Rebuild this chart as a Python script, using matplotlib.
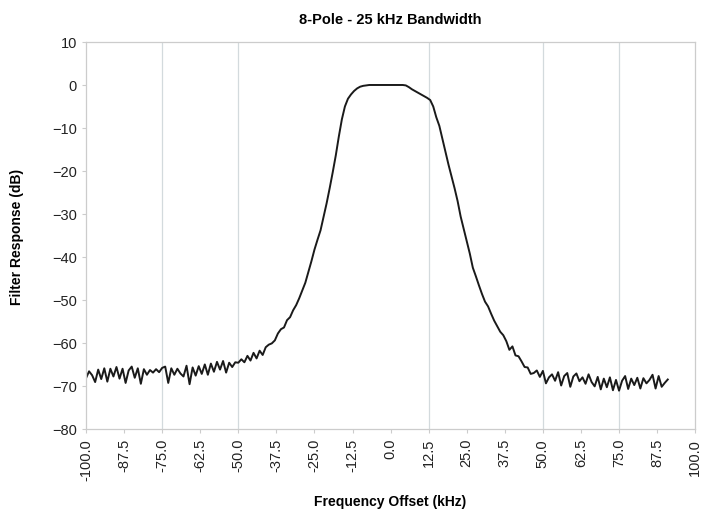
import numpy as np
import matplotlib
matplotlib.use('Agg')
import matplotlib.pyplot as plt

plt.rcParams['font.family'] = ['Liberation Sans', 'DejaVu Sans']

# frequency offset samples (kHz), 1 kHz step from -100 to 91
freq = np.arange(-100, 92, 1)

# filter response (dB)
response = [
    -68.2, -66.6, -67.5, -69.1, -66.2, -68.4, -65.9, -69.0, -66.0, -67.8,
    -65.6, -68.3, -66.0, -69.3, -66.4, -65.5, -68.1, -65.9, -69.5, -66.1,
    -67.4, -66.3, -66.9, -66.1, -66.8, -65.8, -65.5, -69.3, -65.9, -67.4,
    -66.0, -67.1, -67.8, -65.3, -69.6, -65.7, -67.6, -65.4, -67.2, -65.0,
    -67.4, -64.8, -66.7, -64.4, -66.2, -64.2, -66.9, -64.6, -65.6, -64.5,
    -64.6, -63.8, -64.5, -63.0, -64.1, -62.3, -63.6, -61.8, -62.8, -61.0,
    -60.4, -60.1, -59.4, -57.8, -56.8, -56.4, -54.7, -54.0, -52.4, -51.2,
    -49.6, -47.8, -46.0, -43.5, -41.0, -38.3, -36.0, -33.8, -30.6, -27.5,
    -24.0, -20.3, -16.4, -12.0, -8.0, -5.0, -3.2, -2.2, -1.4, -0.8,
    -0.4, -0.2, -0.1, 0.0, 0.0, 0.0, 0.0, 0.0, 0.0, 0.0,
    0.0, 0.0, 0.0, 0.0, 0.0, -0.1, -0.5, -1.0, -1.4, -1.8,
    -2.2, -2.6, -3.0, -3.5, -5.0, -7.5, -9.5, -12.5, -15.5, -18.5,
    -21.2, -24.0, -27.0, -30.6, -33.5, -36.4, -39.2, -42.5, -44.5, -46.6,
    -48.6, -50.4, -51.5, -53.2, -54.8, -56.1, -57.4, -58.2, -59.6, -61.6,
    -60.8, -62.9, -63.1, -64.3, -65.6, -65.7, -67.2, -67.0, -66.4, -67.9,
    -66.5, -69.4, -68.0, -67.3, -68.8, -66.8, -69.9, -67.7, -67.0, -70.2,
    -67.8, -67.1, -68.9, -68.0, -69.5, -67.3, -69.1, -70.1, -67.9, -70.8,
    -68.3, -70.3, -68.0, -71.0, -68.6, -71.1, -68.8, -67.7, -70.7, -68.3,
    -69.8, -68.1, -70.6, -68.2, -69.4, -68.6, -67.4, -70.6, -67.7, -70.2,
    -69.3, -68.5,
]

x_ticks = np.arange(-100, 100.1, 12.5)
y_ticks = np.arange(-80, 11, 10)
grid_x = [-75, -50, 12.5, 50, 75]

fig = plt.figure(figsize=(7.01, 5.10), dpi=100)
ax = fig.add_axes([0.1227, 0.157, 0.8690, 0.7587])

for gx in grid_x:
    ax.axvline(gx, color='#d3dadd', lw=0.9, zorder=0)

ax.plot(freq, response, color='#1a1a1a', lw=1.4)

ax.set_xlim(-100, 100)
ax.set_ylim(-80, 10)
ax.set_xticks(x_ticks)
ax.set_xticklabels([f'{t:.1f}' for t in x_ticks], rotation=90)
ax.set_yticks(y_ticks)
ax.tick_params(axis='both', labelsize=10.5, colors='#cccccc', labelcolor='#222222',
               length=3, width=0.8)

for s in ax.spines.values():
    s.set_color('#cccccc')
    s.set_linewidth(0.9)

ax.set_title('8-Pole - 25 kHz Bandwidth', fontsize=10.5, fontweight='bold', pad=14)
ax.set_xlabel('Frequency Offset (kHz)', fontsize=10, fontweight='bold', labelpad=10)
ax.set_ylabel('Filter Response (dB)', fontsize=10, fontweight='bold', labelpad=20)

plt.savefig('out.png', dpi=100)
